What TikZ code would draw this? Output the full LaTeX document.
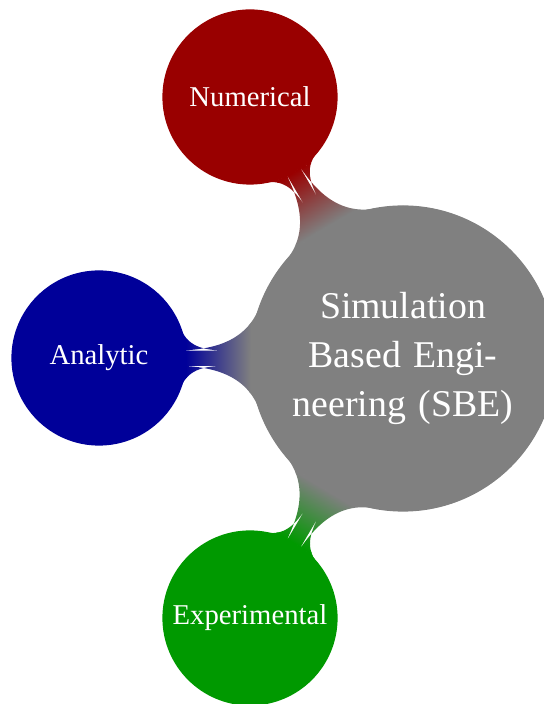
\documentclass[tikz,border=0pt]{standalone}
\usepackage{fontspec}
\setmainfont{Liberation Serif}
\usetikzlibrary{mindmap}
\begin{document}
\begin{tikzpicture}[x=1bp,y=1bp,mindmap,
    rootidea/.style={concept,concept color=black!50,text=white,minimum size=305bp,
      text width=270bp,align=center,font=\fontsize{37.8bp}{49bp}\selectfont},
    branch/.style={concept,text=white,minimum size=174bp,text width=168bp,align=center,
      font=\fontsize{28.7bp}{34bp}\selectfont}]
  \useasboundingbox (0,0) rectangle (544,704);
  \node[rootidea] (sbe) at (403,345.5) {Simulation\\ Based Engi-\\ neering (SBE)};
  \node[branch,concept color=red!60!black] (num) at (250,607) {Numerical};
  \node[branch,concept color=blue!60!black] (ana) at (99,346) {Analytic};
  \node[branch,concept color=green!60!black] (exp) at (250,86) {Experimental};
  \path (sbe) to[circle connection bar switch color=from (black!50) to (red!60!black)] (num);
  \path (sbe) to[circle connection bar switch color=from (black!50) to (blue!60!black)] (ana);
  \path (sbe) to[circle connection bar switch color=from (black!50) to (green!60!black)] (exp);
\end{tikzpicture}
\end{document}
